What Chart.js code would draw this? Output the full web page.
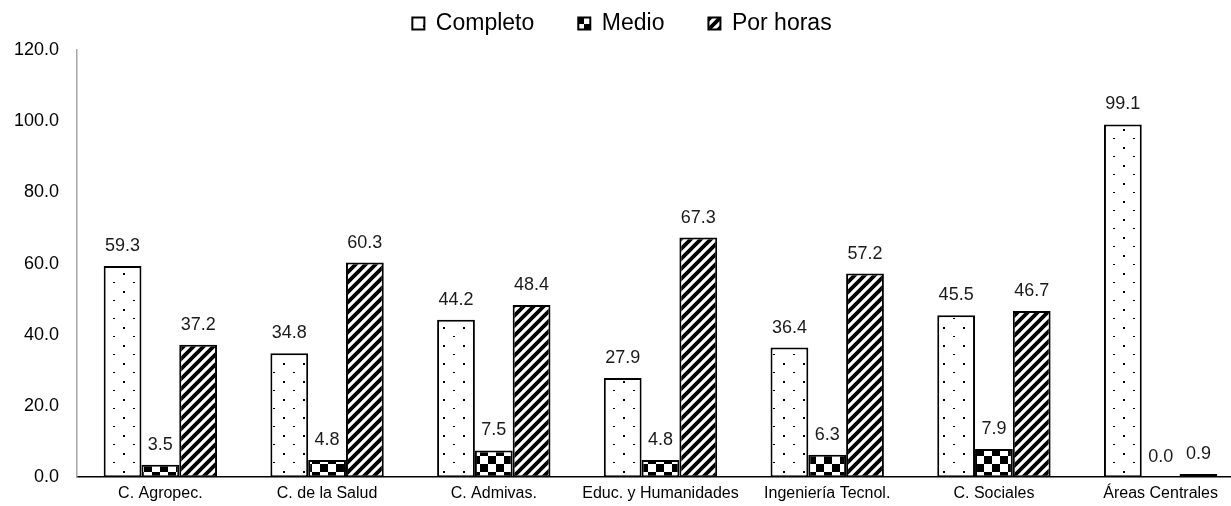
<!DOCTYPE html>
<html>
<head>
  <title>Jornada por área</title>
  <script src="https://cdn.jsdelivr.net/npm/chart.js"></script>
  <style>
    body {
      margin: 0;
      overflow: hidden;
      background: #fff;
      font-family: "Liberation Sans", Arial, sans-serif;
    }
    .chart-container {
      position: relative;
      width: 1244px;
      height: 506px;
    }
  </style>
</head>
<body>
  <div class="chart-container">
    <canvas id="myChart"></canvas>
  </div>
  <script>
    const areas = ['C. Agropec.', 'C. de la Salud', 'C. Admivas.', 'Educ. y Humanidades', 'Ingeniería Tecnol.', 'C. Sociales', 'Áreas Centrales'];
    const completo = [59.3, 34.8, 44.2, 27.9, 36.4, 45.5, 99.1];
    const medio = [3.5, 4.8, 7.5, 4.8, 6.3, 7.9, 0.0];
    const porHoras = [37.2, 60.3, 48.4, 67.3, 57.2, 46.7, 0.9];
    const yTicks = [0, 20, 40, 60, 80, 100, 120];

    const FONT = '"Liberation Sans", Arial, sans-serif';

    // little tiles for the hatch fills
    function makePattern(w, h, draw) {
      const c = document.createElement('canvas');
      c.width = w;
      c.height = h;
      const g = c.getContext('2d');
      g.fillStyle = '#fff';
      g.fillRect(0, 0, w, h);
      g.fillStyle = '#000';
      g.strokeStyle = '#000';
      draw(g);
      return g.createPattern(c, 'repeat');
    }

    const ctx = document.getElementById('myChart').getContext('2d');

    const dots = makePattern(20, 18, g => {
      g.fillRect(3, 3, 2, 2);
      g.fillRect(13, 12, 2, 1);
    });
    const checker = makePattern(16, 16, g => {
      g.fillRect(0, 0, 8, 8);
      g.fillRect(8, 8, 8, 8);
    });
    const stripes = makePattern(10, 10, g => {
      g.lineWidth = 3.8;
      g.beginPath();
      g.moveTo(-5, 5); g.lineTo(5, -5);
      g.moveTo(0, 10); g.lineTo(10, 0);
      g.moveTo(5, 15); g.lineTo(15, 5);
      g.stroke();
    });

    // value labels over each bar
    const valueLabels = {
      id: 'valueLabels',
      afterDatasetsDraw(chart) {
        const c = chart.ctx;
        c.save();
        c.font = '18px ' + FONT;
        c.textAlign = 'center';
        c.textBaseline = 'middle';
        chart.data.datasets.forEach((ds, i) => {
          chart.getDatasetMeta(i).data.forEach((bar, j) => {
            const txt = ds.data[j].toFixed(1);
            const w = c.measureText(txt).width + 6;
            const y = bar.y - 20;
            c.fillStyle = '#fff';
            c.fillRect(bar.x - w / 2, y - 10, w, 20);
            c.fillStyle = '#1a1a1a';
            c.fillText(txt, bar.x, y);
          });
        });
        c.restore();
      }
    };

    // legend sits in a fixed 50px band at the top
    const SHIFT = 32;
    const legendBand = {
      id: 'legendBand',
      afterInit(chart) {
        const lg = chart.legend;
        const fit = lg.fit;
        lg.fit = function () {
          fit.call(this);
          this.height = 50;
        };
        const draw = lg.draw;
        lg.draw = function () {
          const b = this.bottom;
          this.bottom = b + SHIFT;
          chart.ctx.save();
          chart.ctx.translate(0, -SHIFT);
          draw.call(this);
          chart.ctx.restore();
          this.bottom = b;
        };
      }
    };

    const chart = new Chart(ctx, {
      type: 'bar',
      data: {
        labels: areas,
        datasets: [
          { label: 'Completo', data: completo, backgroundColor: dots },
          { label: 'Medio', data: medio, backgroundColor: checker },
          { label: 'Por horas', data: porHoras, backgroundColor: stripes }
        ].map(d => Object.assign(d, {
          borderColor: '#000',
          borderWidth: 2,
          borderSkipped: false,
          categoryPercentage: 0.68,
          barPercentage: 1
        }))
      },
      options: {
        responsive: true,
        maintainAspectRatio: false,
        animation: false,
        layout: { padding: 0 },
        plugins: {
          tooltip: { enabled: false },
          legend: {
            position: 'top',
            labels: {
              boxWidth: 12,
              boxHeight: 12,
              padding: 44,
              color: '#000',
              font: { family: FONT, size: 23 }
            }
          }
        },
        scales: {
          x: {
            grid: { display: false, drawTicks: false },
            border: { display: true, color: '#000', width: 1.5 },
            ticks: {
              padding: 7,
              color: '#000',
              maxRotation: 0,
              autoSkip: false,
              font: { family: FONT, size: 16 }
            },
            afterFit(scale) { scale.height = 25; }
          },
          y: {
            min: 0,
            max: 120,
            grid: { display: false, drawTicks: false },
            border: { display: true, color: '#a6a6a6', width: 1.5 },
            afterBuildTicks(scale) {
              scale.ticks = yTicks.map(v => ({ value: v }));
            },
            ticks: {
              padding: 18,
              color: '#000',
              font: { family: FONT, size: 18 },
              callback: v => v.toFixed(1)
            },
            afterFit(scale) { scale.width = 77; }
          }
        }
      },
      plugins: [valueLabels, legendBand]
    });
  </script>
</body>
</html>
